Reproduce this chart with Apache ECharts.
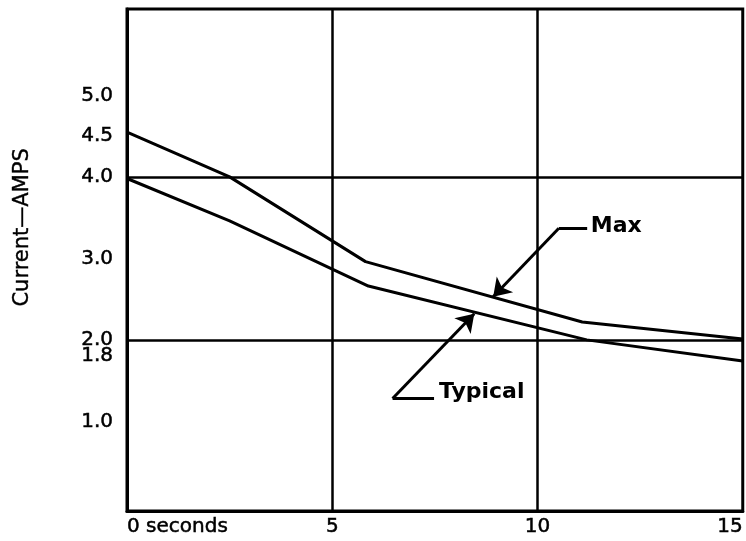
<!DOCTYPE html>
<html>
<head>
<meta charset="utf-8">
<script src="https://cdn.jsdelivr.net/npm/echarts@6.0.0/dist/echarts.min.js"></script>
<style>
  html, body { margin: 0; padding: 0; background: #fff; }
  #chart { width: 746px; height: 541px; }
</style>
</head>
<body>
<div id="chart"></div>
<script>
// values (seconds, amps)
const maxTime = [0, 2.5, 5.81, 11.09, 15];
const maxAmps = [4.55, 4.0, 2.96, 2.22, 2.01];
const typTime = [0, 2.5, 5.88, 11.2, 15];
const typAmps = [3.98, 3.46, 2.66, 2.0, 1.74];

const yTickLabels = [1.0, 1.8, 2.0, 3.0, 4.0, 4.5, 5.0];
const xTickLabels = [0, 5, 10, 15];
const gridX = [5, 10];
const gridY = [2, 4];

// callouts: label point, leader elbow, leader end, arrow tip
const maxNote = { text: 'Max', at: [11.3, 3.39], elbow: [10.52, 3.37], end: [11.21, 3.37], tip: [8.92, 2.53] };
const typNote = { text: 'Typical', at: [7.6, 1.36], elbow: [6.47, 1.28], end: [7.48, 1.28], tip: [8.46, 2.32] };

const font = 'DejaVu Sans';
const chart = echarts.init(document.getElementById('chart'));

function pairs(xs, ys) {
  return xs.map((x, i) => [x, ys[i]]);
}

function leader(note) {
  return [
    [{ coord: note.elbow, symbol: 'none' }, { coord: note.end, symbol: 'none' }],
    [{ coord: note.elbow, symbol: 'none' }, { coord: note.tip, symbol: 'arrow', symbolSize: 17 }]
  ];
}

const curveStyle = { color: '#000', width: 3 };
// slightly heavier type, like the printed figure
const inkText = { color: '#000', fontFamily: font, fontSize: 20, textBorderColor: '#000', textBorderWidth: 0.5 };

chart.setOption({
  animation: false,
  backgroundColor: '#fff',
  grid: {
    left: 127, right: 3, top: 9, bottom: 30,
    show: true, borderColor: '#000', borderWidth: 3
  },
  xAxis: {
    type: 'value',
    min: 0, max: 15, interval: 5,
    axisLine: { onZero: false, lineStyle: { color: '#000', width: 3 } },
    axisTick: { show: false },
    splitLine: { show: false },
    axisLabel: Object.assign({}, inkText, {
      margin: 6,
      alignMinLabel: 'left', alignMaxLabel: 'right',
      customValues: xTickLabels,
      formatter: v => (v === 0 ? '0 seconds' : String(v))
    })
  },
  yAxis: {
    type: 'value',
    min: -0.1, max: 6.06,
    axisLine: { show: true, lineStyle: { color: '#000', width: 3 } },
    axisTick: { show: false },
    splitLine: { show: false },
    axisLabel: Object.assign({}, inkText, {
      margin: 14,
      customValues: yTickLabels,
      formatter: v => v.toFixed(1)
    })
  },
  graphic: [{
    type: 'text',
    left: 12,
    top: 148,
    rotation: Math.PI / 2,
    style: { text: 'Current\u2014AMPS', fontFamily: font, fontSize: 21, fill: '#000', stroke: '#000', lineWidth: 0.4 }
  }],
  series: [
    {
      name: 'Max',
      type: 'line',
      data: pairs(maxTime, maxAmps),
      symbol: 'none',
      lineStyle: curveStyle,
      z: 3,
      markLine: {
        silent: true,
        symbol: 'none',
        label: { show: false },
        lineStyle: { color: '#000', width: 2.5, type: 'solid' },
        data: gridX.map(v => ({ xAxis: v })).concat(gridY.map(v => ({ yAxis: v })))
      }
    },
    {
      name: 'Typical',
      type: 'line',
      data: pairs(typTime, typAmps),
      symbol: 'none',
      lineStyle: curveStyle,
      z: 3
    },
    {
      name: 'notes',
      type: 'scatter',
      symbolSize: 0,
      itemStyle: { opacity: 1, color: '#000' },
      data: [maxNote, typNote].map(n => ({ name: n.text, value: n.at })),
      label: {
        show: true, position: 'right', distance: 0,
        formatter: p => p.name,
        color: '#000', opacity: 1, fontFamily: font, fontWeight: 'bold', fontSize: 22
      },
      emphasis: { disabled: true },
      markLine: {
        silent: true,
        label: { show: false },
        lineStyle: { color: '#000', width: 3, type: 'solid' },
        itemStyle: { color: '#000' },
        data: leader(maxNote).concat(leader(typNote))
      },
      z: 4
    }
  ]
});
</script>
</body>
</html>
